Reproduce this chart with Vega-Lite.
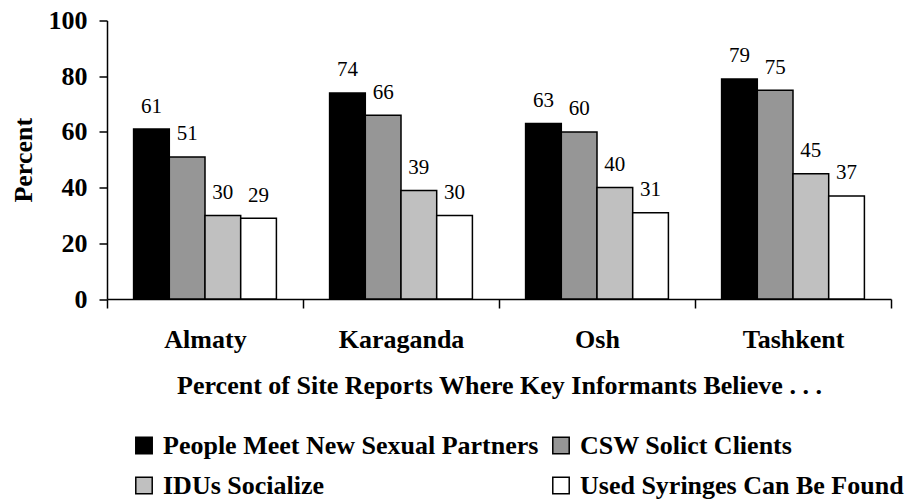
{
  "$schema": "https://vega.github.io/schema/vega-lite/v6.json",
  "width": 784,
  "height": 278.5,
  "autosize": {"type": "none"},
  "padding": {"left": 107, "top": 20.5, "right": 19, "bottom": 200},
  "background": "white",
  "data": {
    "values": [
      {"city": "Almaty", "series": "People Meet New Sexual Partners", "value": 61},
      {"city": "Almaty", "series": "CSW Solict Clients", "value": 51},
      {"city": "Almaty", "series": "IDUs Socialize", "value": 30},
      {"city": "Almaty", "series": "Used Syringes Can Be Found", "value": 29},
      {"city": "Karaganda", "series": "People Meet New Sexual Partners", "value": 74},
      {"city": "Karaganda", "series": "CSW Solict Clients", "value": 66},
      {"city": "Karaganda", "series": "IDUs Socialize", "value": 39},
      {"city": "Karaganda", "series": "Used Syringes Can Be Found", "value": 30},
      {"city": "Osh", "series": "People Meet New Sexual Partners", "value": 63},
      {"city": "Osh", "series": "CSW Solict Clients", "value": 60},
      {"city": "Osh", "series": "IDUs Socialize", "value": 40},
      {"city": "Osh", "series": "Used Syringes Can Be Found", "value": 31},
      {"city": "Tashkent", "series": "People Meet New Sexual Partners", "value": 79},
      {"city": "Tashkent", "series": "CSW Solict Clients", "value": 75},
      {"city": "Tashkent", "series": "IDUs Socialize", "value": 45},
      {"city": "Tashkent", "series": "Used Syringes Can Be Found", "value": 37}
    ]
  },
  "encoding": {
    "x": {
      "field": "city",
      "type": "nominal",
      "sort": ["Almaty", "Karaganda", "Osh", "Tashkent"],
      "scale": {"paddingInner": 0, "paddingOuter": 0},
      "axis": {
        "title": "Percent of Site Reports Where Key Informants Believe . . .",
        "labelAngle": 0,
        "labelFont": "Liberation Serif, Times New Roman, Times, serif",
        "labelFontSize": 26,
        "labelFontWeight": "bold",
        "labelColor": "black",
        "titleFont": "Liberation Serif, Times New Roman, Times, serif",
        "titleFontSize": 26,
        "titleFontWeight": "bold",
        "titleColor": "black",
        "tickBand": "extent",
        "tickSize": 9,
        "tickColor": "black",
        "tickWidth": 1.5,
        "domainColor": "black",
        "domainWidth": 1.5,
        "labelPadding": 18,
        "titlePadding": 20
      }
    },
    "xOffset": {
      "field": "series",
      "type": "nominal",
      "sort": ["People Meet New Sexual Partners", "CSW Solict Clients", "IDUs Socialize", "Used Syringes Can Be Found"],
      "scale": {"paddingInner": 0, "paddingOuter": 0.745}
    },
    "y": {
      "field": "value",
      "type": "quantitative",
      "scale": {"domain": [0, 100], "nice": false},
      "axis": {
        "title": "Percent",
        "values": [0, 20, 40, 60, 80, 100],
        "grid": false,
        "labelFont": "Liberation Serif, Times New Roman, Times, serif",
        "labelFontSize": 26,
        "labelFontWeight": "bold",
        "labelColor": "black",
        "titleFont": "Liberation Serif, Times New Roman, Times, serif",
        "titleFontSize": 26,
        "titleFontWeight": "bold",
        "titleColor": "black",
        "tickSize": 8,
        "tickColor": "black",
        "tickWidth": 1.5,
        "domainColor": "black",
        "domainWidth": 1.5,
        "labelPadding": 12,
        "titlePadding": 12
      }
    }
  },
  "layer": [
    {
      "mark": {"type": "bar", "stroke": "black", "strokeWidth": 1.5},
      "encoding": {
        "fill": {
          "field": "series",
          "type": "nominal",
          "scale": {
            "domain": ["People Meet New Sexual Partners", "CSW Solict Clients", "IDUs Socialize", "Used Syringes Can Be Found"],
            "range": ["#000000", "#969696", "#c0c0c0", "#ffffff"]
          },
          "legend": {
            "title": null,
            "orient": "none",
            "direction": "horizontal",
            "legendX": 24,
            "legendY": 412,
            "columns": 2,
            "symbolType": "square",
            "symbolSize": 270,
            "symbolStrokeColor": "black",
            "symbolStrokeWidth": 1.5,
            "symbolOpacity": 1,
            "labelFont": "Liberation Serif, Times New Roman, Times, serif",
            "labelFontSize": 26,
            "labelFontWeight": "bold",
            "labelColor": "black",
            "labelOffset": 6,
            "columnPadding": 9,
            "rowPadding": 14,
            "labelLimit": 1000,
            "padding": 0
          }
        }
      }
    },
    {
      "mark": {"type": "text", "font": "Liberation Serif, Times New Roman, Times, serif", "fontSize": 21, "baseline": "alphabetic", "dy": -16.5, "color": "black"},
      "encoding": {"text": {"field": "value", "type": "quantitative"}}
    }
  ],
  "config": {"view": {"stroke": null}}
}
